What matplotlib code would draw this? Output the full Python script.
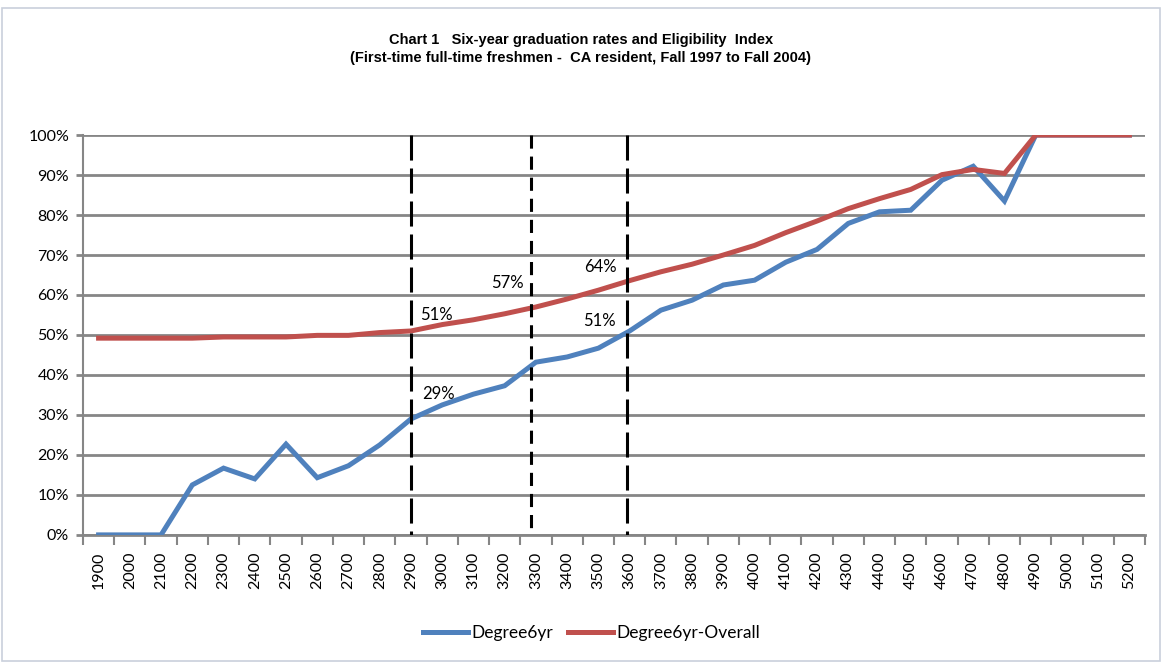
import matplotlib
matplotlib.use("Agg")
import matplotlib.pyplot as plt
from matplotlib.ticker import FixedLocator, PercentFormatter
from matplotlib.patches import Rectangle

# eligibility index categories
index_labels = [str(v) for v in range(1900, 5300, 100)]

degree6yr = [0, 0, 0, 12.5, 16.7, 14.0, 22.7, 14.3, 17.3, 22.5,
             29.0, 32.5, 35.2, 37.3, 43.2, 44.5, 46.7, 51.0, 56.2, 58.7,
             62.5, 63.7, 68.2, 71.4, 77.9, 80.8, 81.2, 88.7, 92.2, 83.5,
             100, 100, 100, 100]
degree6yr_overall = [49.2, 49.2, 49.2, 49.2, 49.5, 49.5, 49.5, 49.9, 49.9, 50.6,
                     51.0, 52.6, 53.8, 55.3, 57.0, 59.0, 61.2, 63.6, 65.8, 67.7,
                     70.0, 72.4, 75.6, 78.5, 81.6, 84.1, 86.4, 90.1, 91.4, 90.4,
                     100, 100, 100, 100]

cutoffs = ["2900", "3300", "3600"]
cutoff_shift = [0.0, -0.16, -0.09]   # the drawn lines sit a bit left of the category
cutoff_styles = [(0, (8.2, 2.6)), (0, (4.3, 2.6)), (0, (8.2, 2.6))]

# (category, y, text)
notes = [(10.8, 55.0, "51%"), (10.87, 35.3, "29%"), (13.1, 63.0, "57%"),
         (16.08, 67.0, "64%"), (16.04, 53.5, "51%")]

blue = "#4F81BD"
red = "#C0504D"
grid_col = "#868686"
txt_font = ["Lato", "DejaVu Sans"]

fig = plt.figure(figsize=(11.62, 6.62), dpi=100)
fig.patches.append(Rectangle((0.002, 0.002), 0.996, 0.986, transform=fig.transFigure,
                             fill=False, edgecolor="#C9D0DC", linewidth=1.2))
ax = fig.add_axes([0.0714, 0.192, 0.914, 0.604])

x = list(range(len(index_labels)))
ax.plot(x, degree6yr, color=blue, lw=3.6, label="Degree6yr", solid_joinstyle="miter", zorder=4)
ax.plot(x, degree6yr_overall, color=red, lw=3.6, label="Degree6yr-Overall", solid_joinstyle="miter", zorder=4)

for c, sh, ls in zip(cutoffs, cutoff_shift, cutoff_styles):
    i = index_labels.index(c) + sh
    ax.plot([i, i], [100, 0], color="black", lw=2.2, linestyle=ls, zorder=5)

for xi, yi, t in notes:
    ax.text(xi, yi, t, ha="center", va="center", fontsize=12, family=txt_font, zorder=6)

ax.set_xlim(-0.5, len(index_labels) - 0.5)
ax.set_ylim(0, 100)
ax.yaxis.set_major_locator(FixedLocator(range(0, 101, 10)))
ax.yaxis.set_major_formatter(PercentFormatter(decimals=0))
ax.set_xticks(x)
ax.set_xticklabels(index_labels, rotation=90, fontsize=11.5, family=txt_font)
ax.set_xticks([v - 0.5 for v in range(len(index_labels) + 1)], minor=True)
ax.tick_params(axis="x", which="major", length=0, pad=12)
ax.tick_params(axis="x", which="minor", length=7, width=1.5, color=grid_col)
ax.tick_params(axis="y", length=5, width=2, color=grid_col, labelsize=11.5, pad=5)
for lab in ax.get_yticklabels():
    lab.set_family(txt_font)

ax.grid(axis="y", color=grid_col, lw=2)
ax.set_axisbelow(True)
for s in ["top", "right"]:
    ax.spines[s].set_visible(False)
ax.spines["left"].set_color(grid_col)
ax.spines["left"].set_linewidth(1.5)
ax.spines["bottom"].set_color(grid_col)
ax.spines["bottom"].set_linewidth(2)

fig.text(0.5, 0.926, "Chart 1   Six-year graduation rates and Eligibility  Index\n"
         "(First-time full-time freshmen -  CA resident, Fall 1997 to Fall 2004)",
         ha="center", va="center", fontsize=10.5, fontweight="bold",
         family=["Liberation Sans Narrow", "Liberation Sans", "DejaVu Sans"], linespacing=1.3)

fig.legend(loc="center", bbox_to_anchor=(0.509, 0.044), ncol=2, frameon=False,
           handlelength=2.6, columnspacing=0.9, handletextpad=0.15,
           prop={"family": txt_font, "size": 12.5})

fig.savefig("out.png", dpi=100)
